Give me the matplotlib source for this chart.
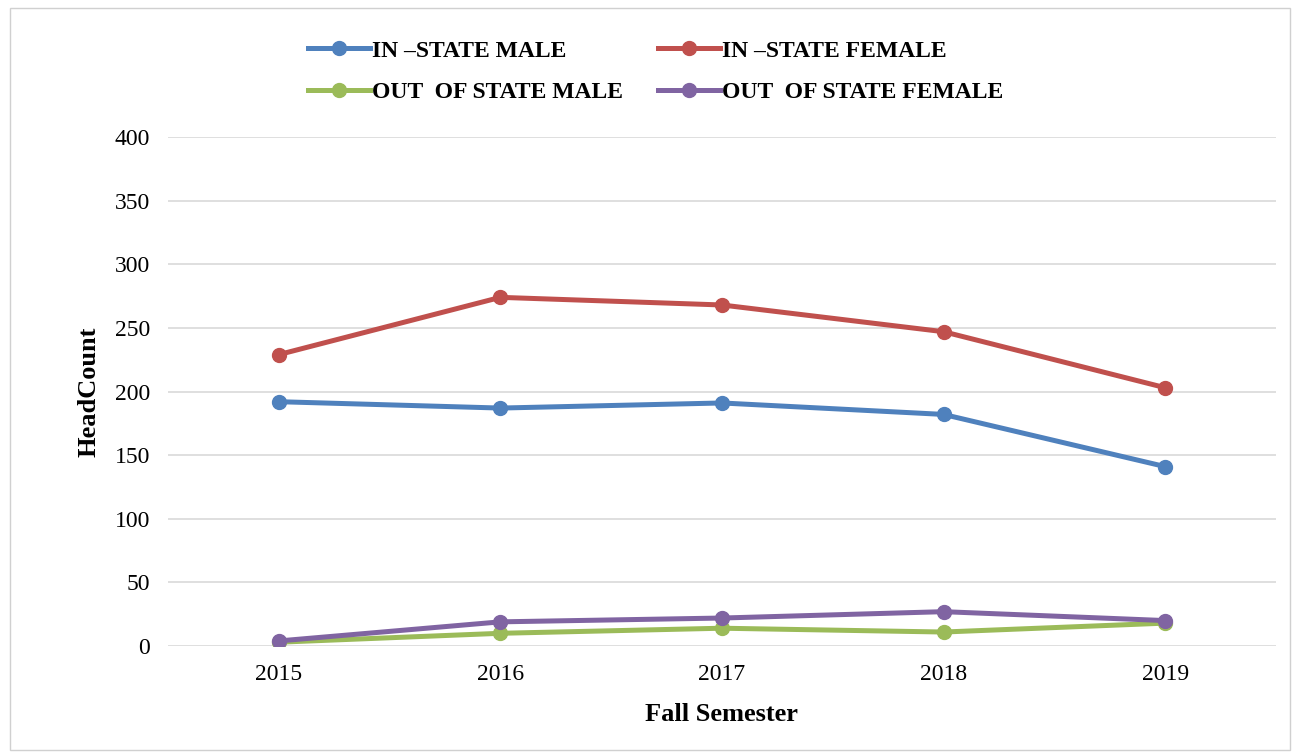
import numpy as np
import matplotlib
matplotlib.use("Agg")
import matplotlib.pyplot as plt
from matplotlib.patches import Rectangle

plt.rcParams['font.family'] = ['Liberation Serif', 'DejaVu Serif']

years = ["2015", "2016", "2017", "2018", "2019"]
in_male = [192, 187, 191, 182, 141]
in_female = [229, 274, 268, 247, 203]
out_male = [3, 10, 14, 11, 18]
out_female = [4, 19, 22, 27, 20]

series = [
    ("IN \u2013STATE MALE", in_male, "#4F81BD"),
    ("IN \u2013STATE FEMALE", in_female, "#C0504D"),
    ("OUT  OF STATE MALE", out_male, "#9BBB59"),
    ("OUT  OF STATE FEMALE", out_female, "#8064A2"),
]

fig = plt.figure(figsize=(12.95, 7.54), dpi=100)
ax = fig.add_axes([0.1297, 0.1432, 0.8556, 0.6751])

x = np.arange(len(years))
handles = []
for name, vals, col in series:
    h, = ax.plot(x, vals, color=col, lw=3.6, marker='o', ms=10, label=name)
    handles.append(h)

ax.set_xlim(-0.5, len(years) - 0.5)
ax.set_ylim(0, 400)
ax.set_yticks(range(0, 401, 50))
ax.set_xticks(x)
ax.set_xticklabels(years)
ax.grid(axis='y', color='#D9D9D9', lw=1.2)
ax.set_axisbelow(True)
for s in ax.spines.values():
    s.set_visible(False)
ax.tick_params(axis='y', length=0, labelsize=17, pad=13)
ax.tick_params(axis='x', length=0, labelsize=17, pad=13)
ax.set_xlabel("Fall Semester", fontsize=19, fontweight='bold', labelpad=13)
ax.set_ylabel("HeadCount", fontsize=19, fontweight='bold', labelpad=10)

# legend fills column-wise, so reorder to read row-wise
order = [0, 2, 1, 3]
fig.legend(handles=[handles[i] for i in order], loc='upper left',
           bbox_to_anchor=(0.2216, 0.975),
           ncol=2, frameon=False, prop={'size': 17, 'weight': 'bold'},
           handlelength=2.6, handletextpad=0.1, columnspacing=1.5,
           labelspacing=0.85)

fig.patches.append(Rectangle((0.008, 0.005), 0.988, 0.985, transform=fig.transFigure,
                             fill=False, edgecolor='#D0D0D0', lw=1))

fig.savefig("out.png", dpi=100)
